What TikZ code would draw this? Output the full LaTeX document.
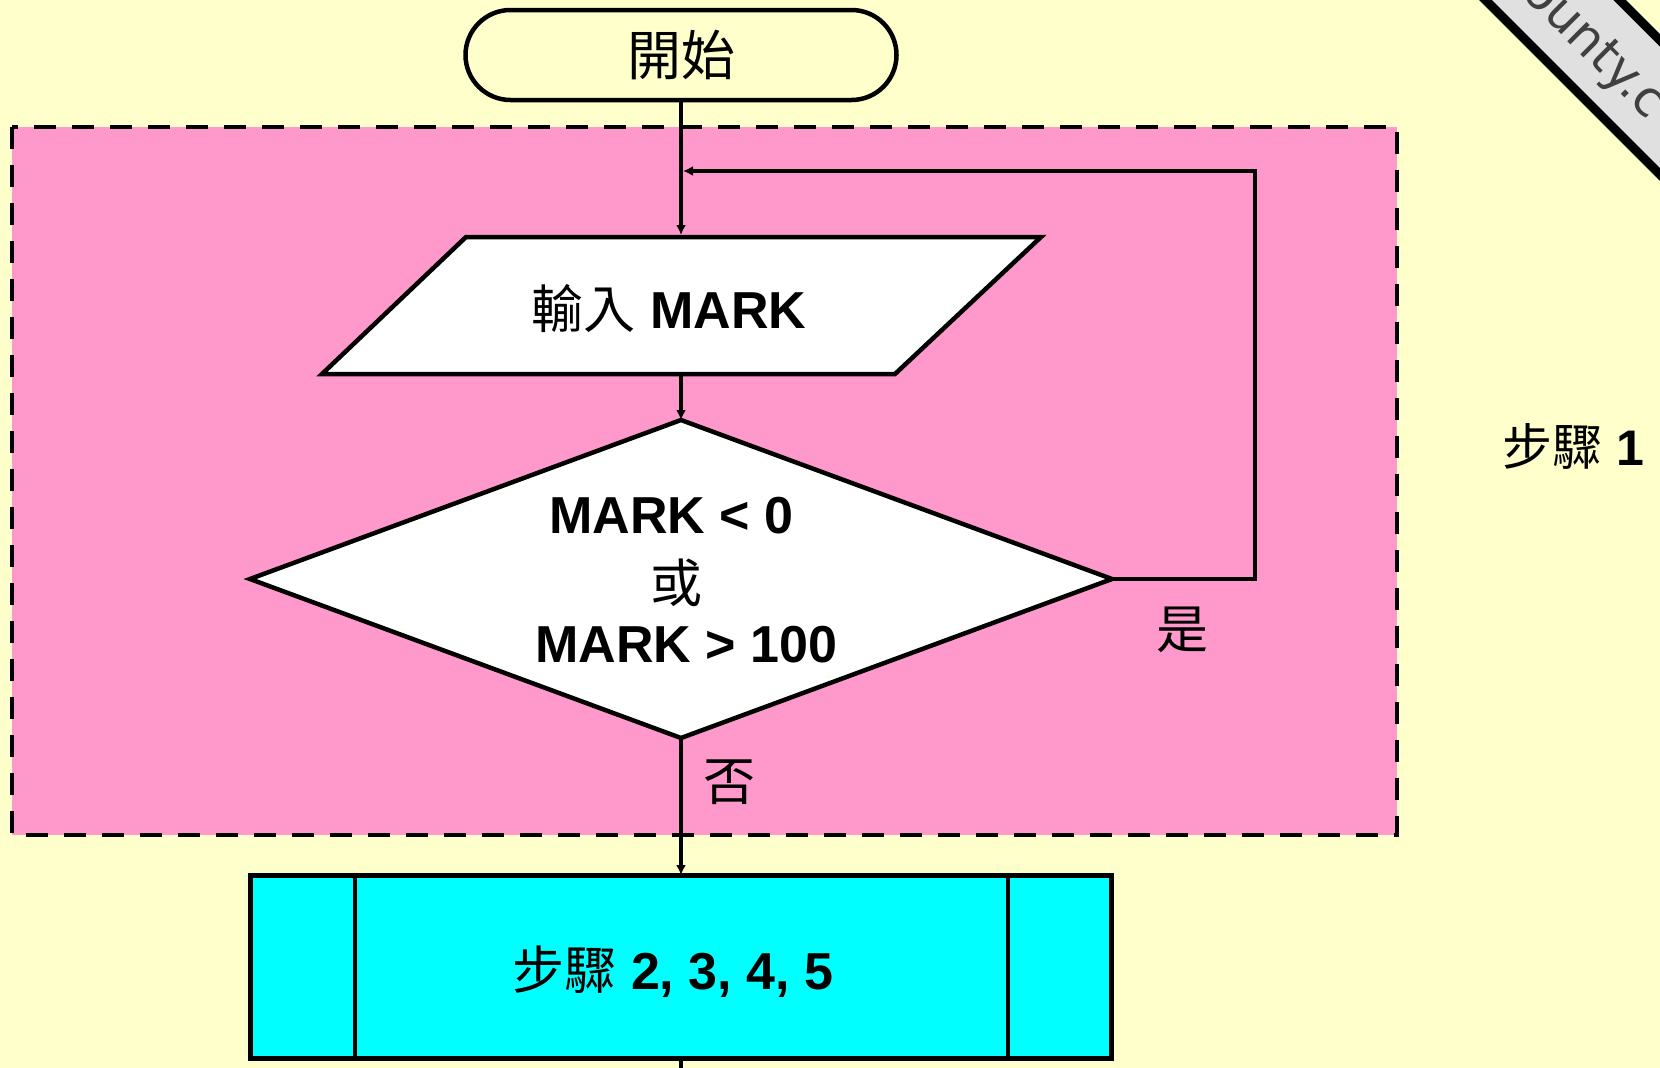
\documentclass[tikz,border=0pt]{standalone}
\usepackage{fontspec}
\setmainfont{Liberation Sans}
\newfontfamily\cjk{Noto Sans CJK TC}
\newfontfamily\wmfont{DejaVu Sans}
\usetikzlibrary{shapes.geometric,arrows.meta}
\definecolor{bgyellow}{RGB}{255,255,204}
\definecolor{pinkfill}{RGB}{255,153,204}
\definecolor{cyanfill}{RGB}{0,255,255}
\begin{document}
\begin{tikzpicture}[x=1pt,y=-1pt,
  conn/.style={line width=3.7pt, -{Latex[length=10pt,width=10pt]}},
  plainline/.style={line width=3.7pt},
  shapeline/.style={draw=black, line width=4.5pt},
  bigtxt/.style={font=\fontsize{52}{60}\selectfont, inner sep=0pt},
]
\useasboundingbox (0,0) rectangle (1660,1068);
\fill[bgyellow] (0,0) rectangle (1660,1068);
% step 1 region
\filldraw[fill=pinkfill, draw=black, line width=4pt, dash pattern=on 22pt off 16pt] (12,127) rectangle (1397,835);
% watermark band
\begin{scope}
  \clip (0,0) rectangle (1660,1068);
  \fill[black!12] (1379,-100) -- (1779,300) -- (1926,300) -- (1526,-100) -- cycle;
  \draw[line width=9pt] (1385.4,-100) -- (1785.4,300);
  \draw[line width=9pt] (1519.6,-100) -- (1919.6,300);
  \node[rotate=-45, font=\wmfont\fontsize{50}{50}\selectfont, text=black!75, inner sep=0pt] (wm) at (1593,49) {ounty.c};
\end{scope}
% start terminal
\node[shapeline, fill=bgyellow, rounded corners=45pt, minimum width=431pt, minimum height=90pt, inner sep=0pt, outer sep=0pt, font=\fontsize{54}{60}\selectfont] (start) at (681,55) {\cjk 開始};
% input parallelogram
\filldraw[shapeline, fill=white] (466,237) -- (1041,237) -- (895,374) -- (322,374) -- cycle;
\coordinate (inTop) at (681,235);
\coordinate (inBot) at (681,374);
\node[bigtxt] (intxt) at (669,309) {{\cjk 輸入} {\bfseries MARK}};
% decision
\node[diamond, shapeline, fill=white, minimum width=862pt, minimum height=318pt, inner sep=0pt, outer sep=0pt] (dec) at (681,579) {};
\node[bigtxt] (dec1) at (671.5,516) {\bfseries MARK < 0};
\node[bigtxt] (dec2) at (676,583) {\cjk 或};
\node[bigtxt] (dec3) at (686.5,645) {\bfseries MARK > 100};
% steps 2-5 box
\node[shapeline, line width=5pt, fill=cyanfill, minimum width=861pt, minimum height=183pt, inner sep=0pt, outer sep=0pt] (steps) at (681,966.5) {};
\draw[line width=4pt] ([xshift=104pt]steps.north west) -- ([xshift=104pt]steps.south west);
\draw[line width=4pt] ([xshift=-104pt]steps.north east) -- ([xshift=-104pt]steps.south east);
\node[bigtxt] (stepstxt) at (673,972) {{\cjk 步驟} {\bfseries 2, 3, 4, 5}};
% labels
\node[bigtxt] (yes) at (1182,630) {\cjk 是};
\node[bigtxt] (no) at (729,782) {\cjk 否};
\node[bigtxt, font=\fontsize{50}{60}\selectfont] (step1) at (1573,446) {{\cjk 步驟} {\bfseries 1}};
% connectors
\coordinate (loopR) at (1255,171);
\coordinate (loopIn) at (683,171);
\coordinate (bottomEnd) at (681,1075);
\draw[conn] (start.south) -- (inTop);
\draw[conn] (inBot) -- (dec.north);
\draw[conn] (dec.south) -- (steps.north);
\draw[conn] (dec.east) -| (loopR) -- (loopIn);
\draw[plainline] (steps.south) -- (bottomEnd);
\end{tikzpicture}
\end{document}
